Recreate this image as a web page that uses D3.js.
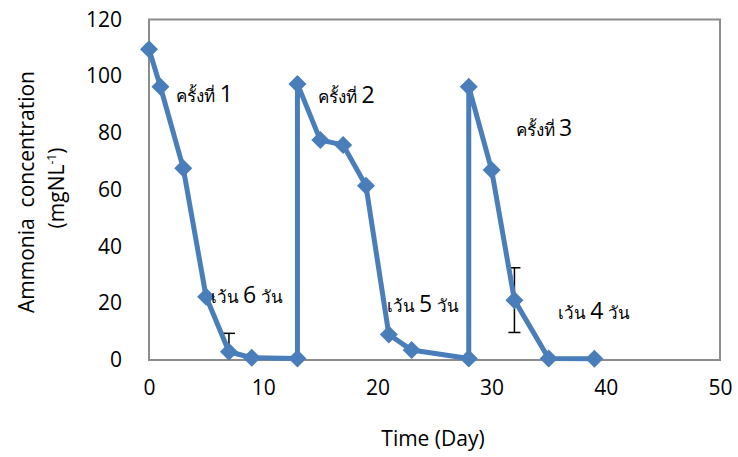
<!DOCTYPE html>
<html>
<head>
<meta charset="utf-8">
<script src="https://cdn.jsdelivr.net/npm/d3@7"></script>
<style>
  body { margin: 0; background: #fff; }
  svg { font-family: "Open Sans", "Noto Sans", sans-serif; }
</style>
</head>
<body>
<div id="chart"></div>
<script>
// Ammonia concentration over time (three loading rounds)
const days = [0, 1, 3, 5, 7, 9, 13, 13, 15, 17, 19, 21, 23, 28, 28, 30, 32, 35, 39];
const ammonia = [109.5, 96.3, 67.6, 22.3, 2.9, 0.8, 0.5, 97.3, 77.5, 75.8, 61.4, 9.0, 3.5, 0.5, 96.3, 67.0, 21.1, 0.5, 0.4];
const errors = [0, 0, 0, 0, 6.5, 0, 0, 0, 0, 0, 0, 0, 0, 0, 0, 0, 11.4, 0, 0];

const xTicks = [0, 10, 20, 30, 40, 50];
const yTicks = [0, 20, 40, 60, 80, 100, 120];

// annotation labels: Thai part + number + trailing Thai part
const labelThai = ["ครั้งที่ ", "ครั้งที่ ", "ครั้งที่ ", "เว้น ", "เว้น ", "เว้น "];
const labelNum = ["1", "2", "3", "6", "5", "4"];
const labelTail = ["", "", "", " วัน", " วัน", " วัน"];
const labelDay = [2.4, 14.8, 32.1, 5.4, 20.8, 35.8];
const labelVal = [90.9, 90.7, 79, 20, 17, 14.5];

const width = 738, height = 457;
const margin = { top: 19.5, right: 18, bottom: 97, left: 149 };

const svg = d3.select("#chart").append("svg")
    .attr("width", width)
    .attr("height", height);

const x = d3.scaleLinear().domain([0, 50]).range([margin.left, width - margin.right]);
const y = d3.scaleLinear().domain([0, 120]).range([height - margin.bottom, margin.top]);

const data = days.map((d, i) => ({ day: d, val: ammonia[i], err: errors[i] }));

// plot frame
svg.append("rect")
    .attr("x", x(0)).attr("y", y(120))
    .attr("width", x(50) - x(0)).attr("height", y(0) - y(120))
    .attr("fill", "none")
    .attr("stroke", "#8c8c8c")
    .attr("stroke-width", 2);

// axes (labels only)
const yAxis = svg.append("g")
    .attr("transform", `translate(${x(0)},0)`)
    .call(d3.axisLeft(y).tickValues(yTicks).tickSize(0).tickPadding(27));
yAxis.select(".domain").remove();
yAxis.selectAll("text")
    .attr("font-family", "\"Open Sans\", sans-serif")
    .attr("font-size", 21)
    .attr("fill", "#000");

const xAxis = svg.append("g")
    .attr("transform", `translate(0,${y(0)})`)
    .call(d3.axisBottom(x).tickValues(xTicks).tickSize(0).tickPadding(20));
xAxis.select(".domain").remove();
xAxis.selectAll("text")
    .attr("font-family", "\"Open Sans\", sans-serif")
    .attr("font-size", 21)
    .attr("fill", "#000");

// axis titles
svg.append("text")
    .attr("x", 433).attr("y", 446)
    .attr("text-anchor", "middle")
    .attr("font-size", 21)
    .text("Time (Day)");

svg.append("text")
    .attr("transform", "translate(34,192) rotate(-90)")
    .attr("text-anchor", "middle")
    .attr("font-size", 21)
    .attr("xml:space", "preserve")
    .text("Ammonia  concentration");

const yt2 = svg.append("text")
    .attr("transform", "translate(64,188) rotate(-90)")
    .attr("text-anchor", "middle")
    .attr("font-size", 21);
yt2.append("tspan").text("(mgNL");
yt2.append("tspan").attr("font-size", 12).attr("dy", -8).text("-1");
yt2.append("tspan").attr("dy", 8).text(")");

// error bars, clipped to plot area
svg.append("clipPath").attr("id", "plotClip")
    .append("rect")
    .attr("x", x(0)).attr("y", y(120))
    .attr("width", x(50) - x(0)).attr("height", y(0) - y(120));

const eb = svg.append("g")
    .attr("clip-path", "url(#plotClip)")
    .selectAll("g")
    .data(data.filter(d => d.err > 0))
    .join("g")
    .attr("stroke", "#000")
    .attr("stroke-width", 1.5);
eb.append("line")
    .attr("x1", d => x(d.day)).attr("x2", d => x(d.day))
    .attr("y1", d => y(d.val + d.err)).attr("y2", d => y(d.val - d.err));
eb.append("line")
    .attr("x1", d => x(d.day) - 6).attr("x2", d => x(d.day) + 6)
    .attr("y1", d => y(d.val + d.err)).attr("y2", d => y(d.val + d.err));
eb.append("line")
    .attr("x1", d => x(d.day) - 6).attr("x2", d => x(d.day) + 6)
    .attr("y1", d => y(d.val - d.err)).attr("y2", d => y(d.val - d.err));

// series line
const line = d3.line().x(d => x(d.day)).y(d => y(d.val));
svg.append("path")
    .datum(data)
    .attr("d", line)
    .attr("fill", "none")
    .attr("stroke", "#4a7ebb")
    .attr("stroke-width", 5)
    .attr("stroke-linejoin", "round");

// diamond markers
svg.selectAll(".marker")
    .data(data)
    .join("path")
    .attr("class", "marker")
    .attr("d", "M0,-9L9,0L0,9L-9,0Z")
    .attr("transform", d => `translate(${x(d.day)},${y(d.val)})`)
    .attr("fill", "#4a7ebb");

// annotations
labelThai.forEach((t, i) => {
    const txt = svg.append("text")
        .attr("x", x(labelDay[i]))
        .attr("y", y(labelVal[i]))
        .attr("xml:space", "preserve")
        .attr("fill", "#000");
    txt.append("tspan").attr("font-size", 17).text(t);
    txt.append("tspan").attr("font-size", 23).text(labelNum[i]);
    if (labelTail[i]) txt.append("tspan").attr("font-size", 17).text(labelTail[i]);
});
</script>
</body>
</html>
